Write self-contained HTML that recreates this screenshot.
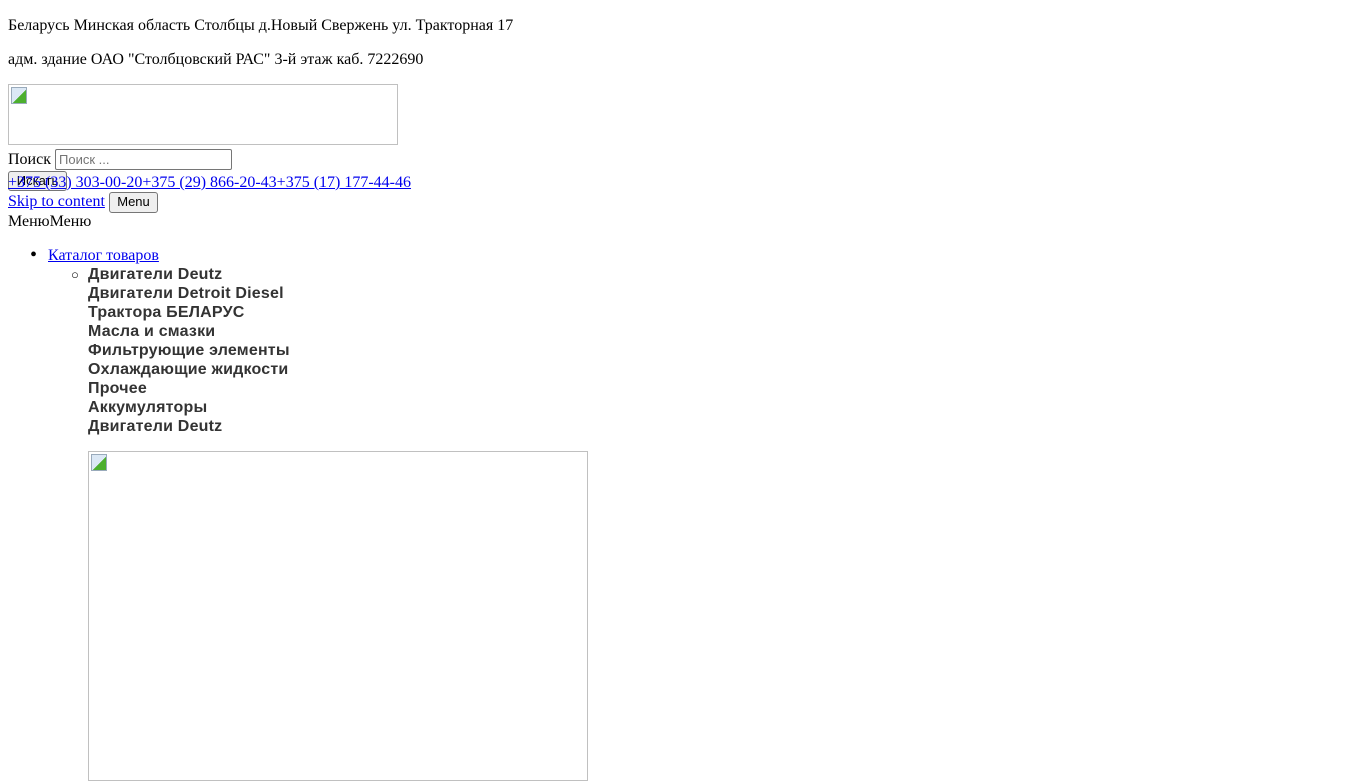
<!DOCTYPE html>
<html><head><meta charset="utf-8"><style>
body{margin:0;width:1366px;height:768px;overflow:hidden;background:#fff;font-family:"Liberation Serif",serif;font-size:16px;color:#000;position:relative}
.a{position:absolute;white-space:nowrap;line-height:19px}
a{color:#00e}
.img{position:absolute;border:1px solid #c0c0c0;box-sizing:border-box}
.ic{position:absolute;left:2px;top:2px;width:14px;height:15px;background:linear-gradient(135deg,#dbe8f5 55%,#4caf2e 55%);border:1px solid #9ab}
input.s{position:absolute;left:55px;top:149px;width:177px;height:21px;box-sizing:border-box;border:1px solid #767676;border-radius:2px;font:13px "Liberation Sans",sans-serif;padding:1px 3px;color:#757575}
.btn{position:absolute;font:13px "Liberation Sans",sans-serif;background:#efefef;border:1px solid #767676;border-radius:3px;box-sizing:border-box;text-align:center;line-height:17px}
.m{position:absolute;left:88px;font:bold 16px "Liberation Sans",sans-serif;color:#333;line-height:19px;letter-spacing:0.2px}
</style></head><body>
<div class="a" style="left:8px;top:16px">Беларусь Минская область Столбцы д.Новый Свержень ул. Тракторная 17</div>
<div class="a" style="left:8px;top:50px">адм. здание ОАО "Столбцовский РАС" 3-й этаж каб. 7222690</div>
<div class="img" style="left:8px;top:84px;width:390px;height:61px"><div class="ic"></div></div>
<div class="a" style="left:8px;top:150px">Поиск</div>
<input class="s" placeholder="Поиск ...">
<div class="btn" style="left:8px;top:171px;width:59px;height:20px">Искать</div>
<div class="a" style="left:8px;top:173px"><a href="#">+375 (33) 303-00-20+375 (29) 866-20-43+375 (17) 177-44-46</a></div>
<div class="a" style="left:8px;top:192px"><a href="#">Skip to content</a></div>
<div class="btn" style="left:109px;top:192px;width:49px;height:21px">Menu</div>
<div class="a" style="left:8px;top:212px">МенюМеню</div>
<div class="a" style="left:30px;top:246px;font-size:20px">•</div>
<div class="a" style="left:48px;top:246px"><a href="#">Каталог товаров</a></div>
<div class="a" style="left:71px;top:265px;font-size:13px">○</div>
<div class="m" style="top:265px">Двигатели Deutz</div>
<div class="m" style="top:284px">Двигатели Detroit Diesel</div>
<div class="m" style="top:303px">Трактора БЕЛАРУС</div>
<div class="m" style="top:322px">Масла и смазки</div>
<div class="m" style="top:341px">Фильтрующие элементы</div>
<div class="m" style="top:360px">Охлаждающие жидкости</div>
<div class="m" style="top:379px">Прочее</div>
<div class="m" style="top:398px">Аккумуляторы</div>
<div class="m" style="top:417px">Двигатели Deutz</div>
<div class="img" style="left:88px;top:451px;width:500px;height:330px"><div class="ic"></div></div>
</body></html>
